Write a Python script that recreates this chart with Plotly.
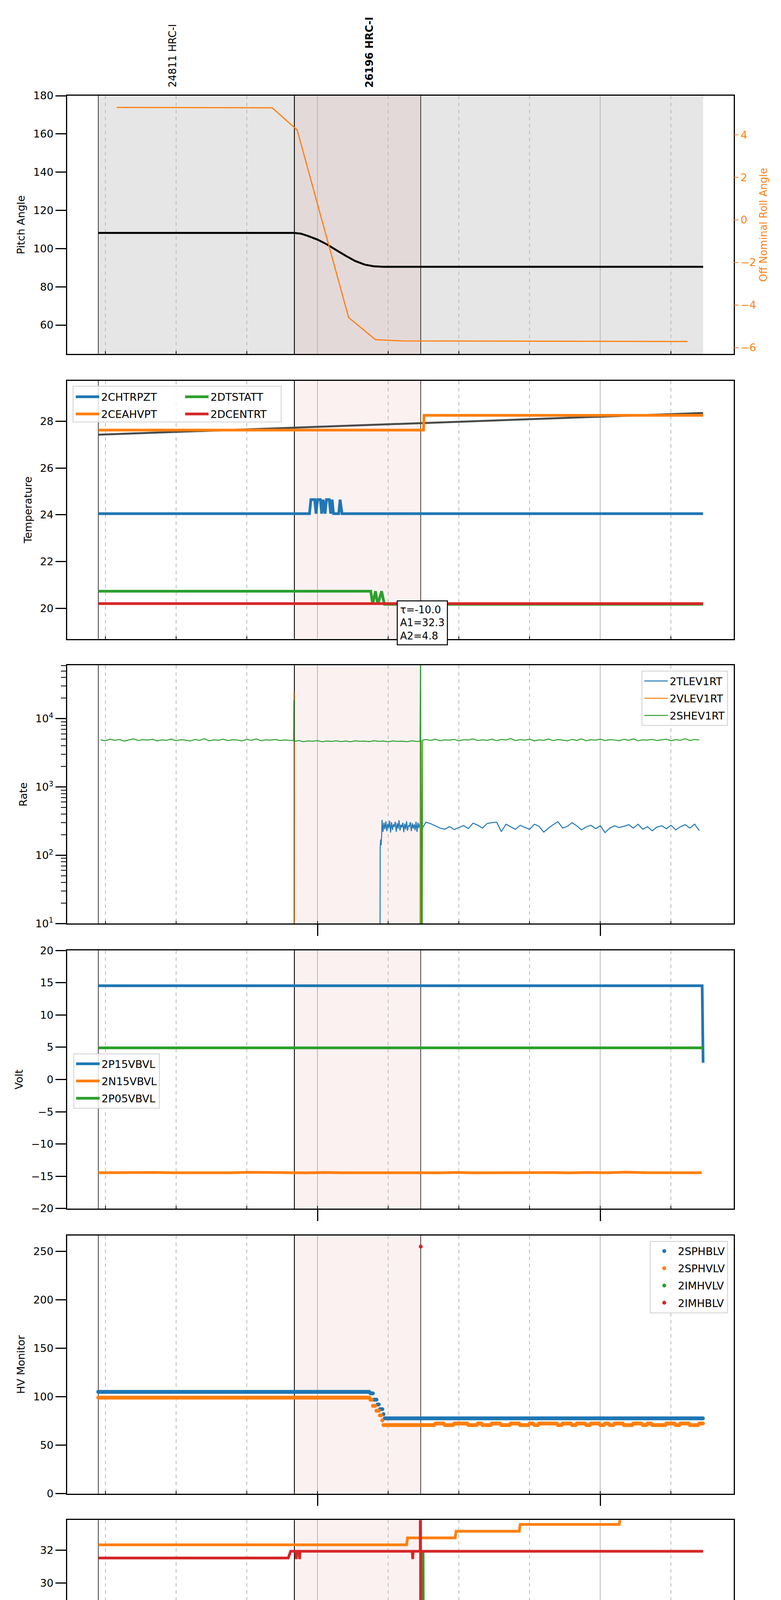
import pandas as pd
import plotly.graph_objects as go

DAY = "2021-12-21 "


def ts(times):
    return [DAY + s for s in times]


# ---------------- data ----------------
# panel 1: pitch / off nominal roll
pitch_time = ["21:13:30", "21:55:00", "21:56:30", "21:58:00", "22:00:00", "22:02:00", "22:04:00",
              "22:06:00", "22:08:00", "22:10:00", "22:12:00", "22:14:00", "23:21:48"]
pitch_deg = [108.2, 108.2, 107.8, 106.6, 104.7, 102.2, 99.2, 96.2, 93.5, 91.6, 90.7, 90.45, 90.45]
roll_time = ["21:17:24", "21:50:24", "21:55:42", "22:06:36", "22:12:18", "22:17:54", "23:18:30"]
roll_deg = [5.29, 5.27, 4.22, -4.59, -5.63, -5.69, -5.72]

# panel 2: temperatures
tfit_time = ["21:13:30", "23:21:48"]
tfit_val = [27.43, 28.36]
chtrpzt_time = ["21:13:30", "21:58:18", "21:58:36", "21:59:24", "21:59:42", "22:00:00", "22:00:36",
                "22:00:54", "22:01:12", "22:01:36", "22:01:54", "22:02:30", "22:02:48", "22:03:06",
                "22:03:24", "22:04:30", "22:04:48", "22:05:12", "23:21:48"]
chtrpzt_val = [24.05, 24.05, 24.65, 24.65, 24.05, 24.65, 24.65, 24.05, 24.65, 24.05, 24.65, 24.65,
               24.05, 24.65, 24.05, 24.05, 24.65, 24.05, 24.05]
ceahvpt_time = ["21:13:30", "22:22:30", "22:22:36", "23:21:48"]
ceahvpt_val = [27.63, 27.63, 28.26, 28.26]
dtstatt_time = ["21:13:30", "22:11:18", "22:11:42", "22:12:18", "22:12:48", "22:13:36", "22:14:12", "23:21:48"]
dtstatt_val = [20.73, 20.73, 20.17, 20.73, 20.17, 20.73, 20.17, 20.17]
dcentrt_time = ["21:13:30", "23:21:48"]
dcentrt_val = [20.2, 20.2]
fit_text = "τ=-10.0<br>A1=32.3<br>A2=4.8"

# panel 3: rates (one value per minute from 21:14)
shev_start = "21:14:00"
shev_rate = [
    4900, 4750, 5000, 4820, 4950, 4700, 4880, 5050, 4780, 4920,
    4850, 4990, 4720, 4900, 4810, 5020, 4760, 4930, 4850, 4700,
    4960, 4800, 5080, 4740, 4890, 4830, 5000, 4770, 4910, 4860,
    4720, 4980, 4800, 5060, 4750, 4900, 4840, 4950, 4780, 4880,
    4820, 4650, 4780, 4600, 4720, 4680, 4760, 4590, 4700, 4650,
    4740, 4620, 4700, 4580, 4730, 4660, 4690, 4600, 4750, 4640,
    4700, 4580, 4720, 4640, 4680, 4600, 4740, 4650, 4850, 4950,
    4800, 5000, 4760, 4900, 4850, 4980, 4720, 4930, 4870, 5050,
    4780, 4900, 4820, 5000, 4750, 4950, 4880, 5100, 4790, 4920,
    4850, 4990, 4730, 4900, 4820, 5040, 4770, 4940, 4860, 4720,
    4980, 4800, 5060, 4750, 4910, 4840, 5000, 4780, 4930, 4870,
    4740, 4990, 4810, 5050, 4760, 4900, 4850, 4970, 4790, 4880,
    5000, 4760, 4930, 4820, 5080, 4790, 4950, 4870,
]
shev_event_time = ["21:54:55", "21:55:00", "21:55:05", "22:21:45", "22:21:52", "22:21:57", "22:22:12", "22:22:18"]
shev_event_rate = [4800, 18700, 4650, 4650, 120000, 1, 1, 4850]
vlev_time = ["21:13:30", "21:54:59", "21:55:00", "21:55:02", "22:21:44", "22:21:47", "22:21:50", "23:21:48"]
vlev_rate = [1, 1, 24800, 1, 1, 4700, 1, 1]
tlev_rise_time = ["21:13:30", "22:13:15", "22:13:18", "22:13:24", "22:13:30", "22:13:36"]
tlev_rise_rate = [1, 1, 130, 170, 140, 190]
tlev_dense_start = "22:13:42"   # one value per 12 s
tlev_dense = [330, 220, 300, 240, 315, 225, 290, 250, 320, 215, 305, 235, 285, 260, 310, 220, 295,
              245, 325, 230, 280, 255, 300, 218, 290, 240, 315, 228, 275, 262, 305, 225, 295, 245,
              285, 232, 310, 220, 300, 250, 290]
tlev_post_start = "22:22:00"    # one value per minute
tlev_post = [
    235, 305, 290, 270, 250, 240, 262, 238, 255, 272,
    245, 295, 275, 250, 292, 300, 305, 222, 285, 260,
    240, 275, 255, 240, 285, 265, 218, 250, 280, 310,
    250, 265, 300, 270, 235, 260, 275, 245, 270, 215,
    250, 270, 255, 265, 280, 250, 285, 240, 262, 228,
    258, 270, 245, 275, 235, 262, 280, 250, 285, 230,
]
rate_tickvals = [10, 100, 1000, 10000]
rate_ticktext = ["10<sup>1</sup>", "10<sup>2</sup>", "10<sup>3</sup>", "10<sup>4</sup>"]
rate_minor_ticks = [m * d for d in (10, 100, 1000, 10000) for m in range(2, 10)]

# panel 4: voltages
p15_time = ["21:13:30", "23:21:36", "23:21:48"]
p15_volt = [14.53, 14.53, 2.6]
n15_start = "21:13:30"          # one value per 4 min
n15_volt = [-14.45, -14.42, -14.47, -14.40, -14.45, -14.48, -14.41, -14.45, -14.38, -14.46, -14.44,
            -14.47, -14.40, -14.45, -14.43, -14.48, -14.39, -14.45, -14.46, -14.41, -14.47, -14.44,
            -14.38, -14.45, -14.42, -14.47, -14.40, -14.45, -14.36, -14.44, -14.47, -14.40, -14.45]
p05_time = ["21:13:30", "23:21:48"]
p05_volt = [4.9, 4.9]

# panel 5: HV monitor (step levels, sampled every 15 s)
hv_end = "23:21:48"
sphblv_time = ["21:13:30", "22:11:06", "22:11:48", "22:12:36", "22:13:12", "22:13:48", "22:14:12"]
sphblv_val = [104.9, 103.4, 96.9, 91.9, 87.1, 81.9, 77.6]
sphvlv_time = ["21:13:30", "22:11:06", "22:11:36", "22:12:24", "22:13:06", "22:13:36"]
sphvlv_val = [99.0, 96.7, 90.5, 85.5, 80.7, 75.5]
sphvlv_tail_start = "22:14:00"  # one level per minute
sphvlv_tail = [
    70.7, 70.7, 70.7, 70.7, 70.7, 70.7, 70.7, 70.7, 70.7, 70.7,
    70.7, 72.3, 72.3, 70.7, 70.7, 72.3, 72.3, 72.3, 70.7, 70.7,
    72.3, 70.7, 70.7, 72.3, 72.3, 70.7, 70.7, 72.3, 72.3, 70.7,
    70.7, 72.3, 70.7, 72.3, 72.3, 72.3, 72.3, 70.7, 72.3, 72.3,
    70.7, 72.3, 72.3, 70.7, 72.3, 72.3, 70.7, 72.3, 70.7, 72.3,
    72.3, 70.7, 70.7, 72.3, 72.3, 70.7, 72.3, 70.7, 70.7, 70.7,
    72.3, 72.3, 70.7, 72.3, 72.3, 70.7, 70.7, 72.3,
]
imhblv_time = ["22:21:54"]
imhblv_val = [254.8]

# panel 6: detector temps
spinatm_time = ["21:13:30", "22:22:30", "22:22:33", "22:22:40", "22:22:43", "23:21:48"]
spinatm_val = [19.63, 19.63, 20.3, 20.3, 19.63, 19.63]
sphvatm_time = ["21:13:30", "22:18:54", "22:19:06", "22:29:12", "22:29:24", "22:42:48", "22:43:00",
                "23:04:00", "23:04:12", "23:21:48"]
sphvatm_val = [32.32, 32.32, 32.74, 32.74, 33.14, 33.14, 33.56, 33.56, 33.95, 33.95]
iminatm_time = ["21:13:30", "22:22:18", "22:22:24", "22:22:30", "23:21:48"]
iminatm_val = [20.31, 20.31, 31.9, 20.31, 20.31]
imhvatm_time = ["21:13:30", "21:53:48", "21:54:18", "21:55:24", "21:55:30", "21:55:36", "21:56:06",
                "21:56:12", "21:56:18", "22:20:06", "22:20:12", "22:20:18", "22:21:48", "22:21:51",
                "22:21:54", "22:21:57", "23:21:48"]
imhvatm_val = [31.52, 31.52, 31.93, 31.93, 31.45, 31.93, 31.93, 31.45, 31.93, 31.93, 31.45, 31.93,
               31.93, 45.0, 10.0, 31.93, 31.93]

# panel 7: FEA temps
fhtrmzt_time = ["21:13:30", "23:21:48"]
fhtrmzt_val = [22.36, 22.36]
fradpyt_time = ["21:13:30", "21:17:36", "21:17:54", "22:09:12", "22:09:30", "22:36:36", "22:37:00", "23:21:48"]
fradpyt_val = [17.65, 17.65, 17.15, 17.15, 17.65, 17.65, 18.15, 18.15]
fepratm_time = ["21:13:30", "21:35:54", "21:36:24", "21:37:00", "21:37:42", "22:21:18", "22:21:24",
                "22:21:30", "23:04:06", "23:04:36", "23:05:12", "23:05:42", "23:06:24", "23:07:12", "23:21:48"]
fepratm_val = [24.62, 24.62, 23.86, 24.62, 23.87, 23.87, 22.36, 23.87, 23.87, 24.62, 23.87, 24.62,
               23.87, 24.62, 24.62]
fe00atm_time = ["21:13:30", "22:19:24", "22:19:30", "22:19:36", "22:20:48", "22:20:54", "22:21:00",
                "22:21:48", "22:21:51", "22:21:54", "22:21:57", "23:21:48"]
fe00atm_val = [22.34, 22.34, 22.68, 22.34, 22.34, 22.68, 22.34, 22.34, 30.0, 10.0, 22.34, 22.34]

# events / labels
data_span = ["21:13:30", "23:21:48"]
obs_span = ["21:55:06", "22:21:54"]
event_lines = ["21:13:30", "21:55:06", "22:21:54"]
event_widths = [1.5, 2.2, 1.5]
obs_label_time = ["21:29:12", "22:11:00"]
obs_label_text = ["24811 HRC-I", "<b>26196 HRC-I</b>"]
minor_label_time = ["21:15", "21:30", "21:45", "22:15", "22:30", "22:45", "23:15"]
minor_label_text = ["15", "30", "45", "15", "30", "45", "15"]
x_range = ["21:06:54", "23:28:18"]

BLUE, ORANGE, GREEN, RED = "#1f77b4", "#ff7f0e", "#2ca02c", "#d62728"
FONT = "DejaVu Sans"

# ---------------- geometry ----------------
W, H = 2000, 5400
ML, MR, MT, MB = 164, 129, 237, 109
PW, PH = W - ML - MR, H - MT - MB
panel_px = [(237, 900), (969, 1632), (1700, 2363), (2432, 3095), (3164, 3827), (3895, 4559), (4628, 5291)]


def py(p):
    return (H - MB - p) / PH


def px(p):
    return (p - ML) / PW


def ax(k):
    return ("x", "y") if k == 1 else (f"x{k}", f"y{k}")


fig = go.Figure()


def line(k, times, vals, name, color, width, legend=None, yaxis=None):
    xa, ya = ax(k)
    fig.add_trace(go.Scatter(
        x=times, y=vals, mode="lines", name=name, line=dict(color=color, width=width),
        xaxis=xa, yaxis=yaxis or ya, showlegend=legend is not None, legend=legend or "legend",
        legendgroup=name))


def dots(k, times, vals, name, color, legend):
    xa, ya = ax(k)
    fig.add_trace(go.Scatter(
        x=times, y=vals, mode="markers", name=name, marker=dict(color=color, size=10),
        xaxis=xa, yaxis=ya, legend=legend, legendgroup=name))


def held(times, vals, end, freq="15s"):
    s = pd.Series(vals, index=pd.to_datetime(times))
    grid = pd.date_range(s.index[0], pd.Timestamp(DAY + end), freq=freq)
    return s.reindex(grid, method="ffill")


# panel 1
line(1, ts(pitch_time), pitch_deg, "pitch", "black", 5)
line(1, ts(roll_time), roll_deg, "roll", ORANGE, 3, yaxis="y8")

# panel 2
line(2, ts(tfit_time), tfit_val, "fit", "#4a4a4a", 5)
line(2, ts(chtrpzt_time), chtrpzt_val, "2CHTRPZT", BLUE, 7, "legend")
line(2, ts(ceahvpt_time), ceahvpt_val, "2CEAHVPT", ORANGE, 7, "legend")
line(2, ts(dtstatt_time), dtstatt_val, "2DTSTATT", GREEN, 7, "legend2")
line(2, ts(dcentrt_time), dcentrt_val, "2DCENTRT", RED, 7, "legend2")

# panel 3
tlev = pd.concat([
    pd.Series(tlev_rise_rate, index=pd.to_datetime(ts(tlev_rise_time))),
    pd.Series(tlev_dense, index=pd.date_range(DAY + tlev_dense_start, periods=len(tlev_dense), freq="12s")),
    pd.Series(tlev_post, index=pd.date_range(DAY + tlev_post_start, periods=len(tlev_post), freq="1min")),
]).sort_index()
shev = pd.concat([
    pd.Series(shev_rate, index=pd.date_range(DAY + shev_start, periods=len(shev_rate), freq="1min")),
    pd.Series(shev_event_rate, index=pd.to_datetime(ts(shev_event_time))),
]).sort_index()
line(3, tlev.index, tlev.values, "2TLEV1RT", BLUE, 2.5, "legend3")
line(3, ts(vlev_time), vlev_rate, "2VLEV1RT", ORANGE, 2.5, "legend3")
line(3, shev.index, shev.values, "2SHEV1RT", GREEN, 2.5, "legend3")

# panel 4
n15 = pd.Series(n15_volt, index=pd.date_range(DAY + n15_start, periods=len(n15_volt), freq="4min"))
line(4, ts(p15_time), p15_volt, "2P15VBVL", BLUE, 7, "legend4")
line(4, n15.index, n15.values, "2N15VBVL", ORANGE, 7, "legend4")
line(4, ts(p05_time), p05_volt, "2P05VBVL", GREEN, 7, "legend4")

# panel 5
sphb = held(ts(sphblv_time), sphblv_val, hv_end)
tail_times = pd.date_range(DAY + sphvlv_tail_start, periods=len(sphvlv_tail), freq="1min")
sphv = held(list(pd.to_datetime(ts(sphvlv_time))) + list(tail_times), sphvlv_val + sphvlv_tail, hv_end)
dots(5, sphb.index, sphb.values, "2SPHBLV", BLUE, "legend5")
dots(5, sphv.index, sphv.values, "2SPHVLV", ORANGE, "legend5")
dots(5, [None], [None], "2IMHVLV", GREEN, "legend5")
dots(5, ts(imhblv_time), imhblv_val, "2IMHBLV", RED, "legend5")

# panel 6
line(6, ts(spinatm_time), spinatm_val, "2SPINATM", BLUE, 7, "legend6")
line(6, ts(sphvatm_time), sphvatm_val, "2SPHVATM", ORANGE, 7, "legend6")
line(6, ts(iminatm_time), iminatm_val, "2IMINATM", GREEN, 7, "legend6")
line(6, ts(imhvatm_time), imhvatm_val, "2IMHVATM", RED, 7, "legend6")

# panel 7
line(7, ts(fhtrmzt_time), fhtrmzt_val, "2FHTRMZT", BLUE, 7, "legend7")
line(7, ts(fradpyt_time), fradpyt_val, "2FRADPYT", ORANGE, 7, "legend7")
line(7, ts(fepratm_time), fepratm_val, "2FEPRATM", GREEN, 7, "legend7")
line(7, ts(fe00atm_time), fe00atm_val, "2FE00ATM", RED, 7, "legend7")

# ---------------- axes ----------------
y_titles = ["Pitch Angle", "Temperature", "Rate", "Volt", "HV Monitor", "Detector Temp", "FEA Temp"]
y_ranges = [[44.9, 180], [18.69, 29.74], [1, 4.78], [-20, 20], [0, 266.3], [18.13, 33.82], [15.65, 25.36]]
y_dticks = [20, 2, 1, 5, 50, 2, 2]

layout = dict(
    width=W, height=H, margin=dict(l=ML, r=MR, t=MT, b=MB),
    plot_bgcolor="white", paper_bgcolor="white",
    font=dict(family=FONT, size=27, color="black"),
)
for k in range(1, 8):
    top, bot = panel_px[k - 1]
    xa, ya = ax(k)
    xkey = "xaxis" if k == 1 else f"xaxis{k}"
    ykey = "yaxis" if k == 1 else f"yaxis{k}"
    layout[xkey] = dict(
        type="date", range=ts(x_range), anchor=ya, domain=[0, 1],
        dtick=3600000, tick0=DAY + "00:00", tickformat="%Hh",
        showgrid=True, gridcolor="#b8b8b8", gridwidth=1.5, zeroline=False,
        showline=True, linecolor="black", linewidth=2.5, mirror=True,
        ticks="outside" if k >= 3 else "", ticklen=29, tickwidth=2.5, tickcolor="black",
        showticklabels=(k == 7), tickfont=dict(size=27),
        minor=dict(dtick=900000, tick0=DAY + "00:00", ticks="inside", ticklen=7, tickwidth=2,
                   tickcolor="black", showgrid=True, gridcolor="#b8b8b8", griddash="dash", gridwidth=1.5),
    )
    yd = dict(
        domain=[py(bot), py(top)], anchor=xa, range=y_ranges[k - 1],
        showgrid=False, zeroline=False, showline=True, linecolor="black", linewidth=2.5, mirror=True,
        ticks="outside", ticklen=27, tickwidth=3, tickcolor="black", tickfont=dict(size=27),
        title=dict(text=y_titles[k - 1], font=dict(size=27), standoff=14),
    )
    if k == 3:
        yd.update(type="log", tickmode="array", tickvals=rate_tickvals, ticktext=rate_ticktext,
                  minor=dict(tickmode="array", tickvals=rate_minor_ticks, ticks="outside",
                             ticklen=13, tickwidth=2, tickcolor="black", showgrid=False))
    else:
        yd.update(dtick=y_dticks[k - 1], tick0=0)
    layout[ykey] = yd

layout["xaxis7"]["title"] = dict(text="2021-12-21 (355)", font=dict(size=30), standoff=22)
layout["yaxis8"] = dict(
    overlaying="y", side="right", anchor="x", range=[-6.30, 5.84], dtick=2, tick0=0,
    showgrid=False, zeroline=False, showline=False,
    ticks="outside", ticklen=11, tickwidth=2, tickcolor=ORANGE,
    tickfont=dict(size=27, color=ORANGE),
    title=dict(text="Off Nominal Roll Angle", font=dict(size=26, color=ORANGE), standoff=10),
)

# legends
box = dict(font=dict(size=27), bgcolor="rgba(255,255,255,0.8)", bordercolor="#d0d0d0",
           borderwidth=2, tracegroupgap=6, yanchor="top", itemwidth=60)
clear = dict(font=dict(size=27), bgcolor="rgba(0,0,0,0)", borderwidth=0, tracegroupgap=6,
             yanchor="top", itemwidth=60)
layout["legend"] = dict(clear, x=px(181), y=py(986), xanchor="left")
layout["legend2"] = dict(clear, x=px(461), y=py(986), xanchor="left")
layout["legend3"] = dict(box, x=px(1856), y=py(1714), xanchor="right")
layout["legend4"] = dict(box, x=px(180), y=py(2697), xanchor="left")
layout["legend5"] = dict(box, x=px(1856), y=py(3178), xanchor="right")
layout["legend6"] = dict(box, x=px(1856), y=py(4140), xanchor="right")
layout["legend7"] = dict(box, x=px(1856), y=py(4871), xanchor="right")

fig.update_layout(**layout)

# ---------------- shapes ----------------
fig.add_shape(type="rect", xref="x", yref="y domain", x0=DAY + data_span[0], x1=DAY + data_span[1],
              y0=0, y1=1, fillcolor="rgba(128,128,128,0.2)", line_width=0, layer="below")
for k in range(1, 8):
    xa, ya = ax(k)
    fig.add_shape(type="rect", xref=xa, yref=f"{ya} domain", x0=DAY + obs_span[0], x1=DAY + obs_span[1],
                  y0=0, y1=1, fillcolor="rgba(214,39,40,0.065)", line_width=0, layer="below")
    for t, w in zip(event_lines, event_widths):
        fig.add_shape(type="line", xref=xa, yref=f"{ya} domain", x0=DAY + t, x1=DAY + t, y0=0, y1=1,
                      line=dict(color="black", width=w), layer="below")

# frame around the two-column legend of panel 2
fig.add_shape(type="rect", xref="paper", yref="paper", x0=px(179), x1=px(712), y0=py(1075), y1=py(983),
              fillcolor="rgba(255,255,255,0.8)", line=dict(color="#d0d0d0", width=2), layer="above")

# ---------------- annotations ----------------
fig.add_annotation(x=DAY + "22:16:48", y=20.33, xref="x2", yref="y2", text=fit_text, showarrow=False,
                   xanchor="left", yanchor="top", align="left", font=dict(size=26),
                   bgcolor="white", bordercolor="black", borderwidth=2.5, borderpad=6)
for t, txt in zip(obs_label_time, obs_label_text):
    fig.add_annotation(x=DAY + t, y=py(218), xref="x", yref="paper", text=txt, showarrow=False,
                       textangle=-90, xanchor="center", yanchor="bottom", font=dict(size=26))
for t, txt in zip(minor_label_time, minor_label_text):
    fig.add_annotation(x=DAY + t, y=0, xref="x7", yref="y7 domain", text=txt, showarrow=False,
                       xanchor="center", yanchor="top", yshift=-4, font=dict(size=17))

fig.write_html("out.html")
